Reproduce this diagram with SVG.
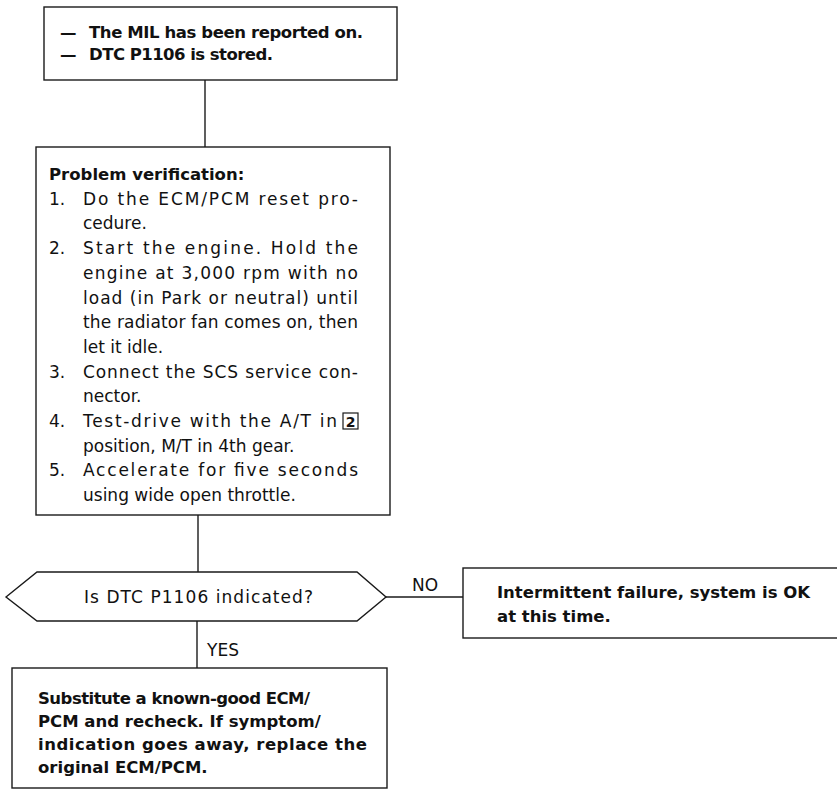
<svg xmlns="http://www.w3.org/2000/svg" width="837" height="789" viewBox="0 0 837 789">
<style>
.box{fill:#fff;stroke:#1a1a1a;stroke-width:1.4}
.ln{fill:none;stroke:#1a1a1a;stroke-width:1.4}
.b{font-family:"DejaVu Sans",sans-serif;font-weight:bold;font-size:16.5px;fill:#111}
.r{font-family:"DejaVu Sans",sans-serif;font-size:17px;fill:#111}
</style>
<rect width="837" height="789" fill="#fff"/>
<g id="connectors">
<line class="ln" x1="205" y1="80" x2="205" y2="147"/>
<line class="ln" x1="198" y1="515" x2="198" y2="572"/>
<line class="ln" x1="386" y1="597" x2="463" y2="597"/>
<line class="ln" x1="197" y1="621" x2="197" y2="668"/>
<text class="r" x="412" y="591">NO</text>
<text class="r" x="207" y="656">YES</text>
</g>
<g id="start">
<rect class="box" x="44" y="7" width="353" height="73"/>
<text class="b" x="60" y="38">—</text>
<text class="b" x="89" y="38" textLength="274" lengthAdjust="spacing">The MIL has been reported on.</text>
<text class="b" x="60" y="60">—</text>
<text class="b" x="89" y="60" textLength="184" lengthAdjust="spacing">DTC P1106 is stored.</text>
</g>
<g id="verify">
<rect class="box" x="36" y="147" width="354" height="368"/>
<text class="b" x="49" y="180">Problem verification:</text>
<text class="r" x="49" y="204.7">1.</text>
<text class="r" x="83" y="204.7" textLength="275" lengthAdjust="spacing">Do the ECM/PCM reset pro-</text>
<text class="r" x="83" y="229.4">cedure.</text>
<text class="r" x="49" y="254.1">2.</text>
<text class="r" x="83" y="254.1" textLength="275" lengthAdjust="spacing">Start the engine. Hold the</text>
<text class="r" x="83" y="278.8" textLength="275" lengthAdjust="spacing">engine at 3,000 rpm with no</text>
<text class="r" x="83" y="303.5" textLength="275" lengthAdjust="spacing">load (in Park or neutral) until</text>
<text class="r" x="83" y="328.2" textLength="275" lengthAdjust="spacing">the radiator fan comes on, then</text>
<text class="r" x="83" y="352.9">let it idle.</text>
<text class="r" x="49" y="377.6">3.</text>
<text class="r" x="83" y="377.6" textLength="275" lengthAdjust="spacing">Connect the SCS service con-</text>
<text class="r" x="83" y="402.3">nector.</text>
<text class="r" x="49" y="427">4.</text>
<text class="r" x="83" y="427" textLength="254" lengthAdjust="spacing">Test-drive with the A/T in</text>
<rect x="343" y="413" width="15" height="16" fill="none" stroke="#1a1a1a" stroke-width="1.2"/>
<text class="b" x="350.5" y="427" text-anchor="middle" style="font-size:14px">2</text>
<text class="r" x="83" y="451.7">position, M/T in 4th gear.</text>
<text class="r" x="49" y="476.4">5.</text>
<text class="r" x="83" y="476.4" textLength="275" lengthAdjust="spacing">Accelerate for five seconds</text>
<text class="r" x="83" y="501.1">using wide open throttle.</text>
</g>
<g id="decision">
<polygon class="box" points="6,597 37,572 357,572 386,597 357,621 37,621"/>
<text class="r" x="84" y="603" textLength="229" lengthAdjust="spacing">Is DTC P1106 indicated?</text>
</g>
<g id="ok">
<rect class="box" x="463" y="568" width="380" height="70"/>
<text class="b" x="497" y="598" textLength="313" lengthAdjust="spacing">Intermittent failure, system is OK</text>
<text class="b" x="497" y="622">at this time.</text>
</g>
<g id="substitute">
<rect class="box" x="12" y="668" width="375" height="120"/>
<text class="b" x="38" y="704" textLength="272" lengthAdjust="spacing">Substitute a known-good ECM/</text>
<text class="b" x="38" y="727">PCM and recheck. If symptom/</text>
<text class="b" x="38" y="750" textLength="329" lengthAdjust="spacing">indication goes away, replace the</text>
<text class="b" x="38" y="773">original ECM/PCM.</text>
</g>
</svg>
